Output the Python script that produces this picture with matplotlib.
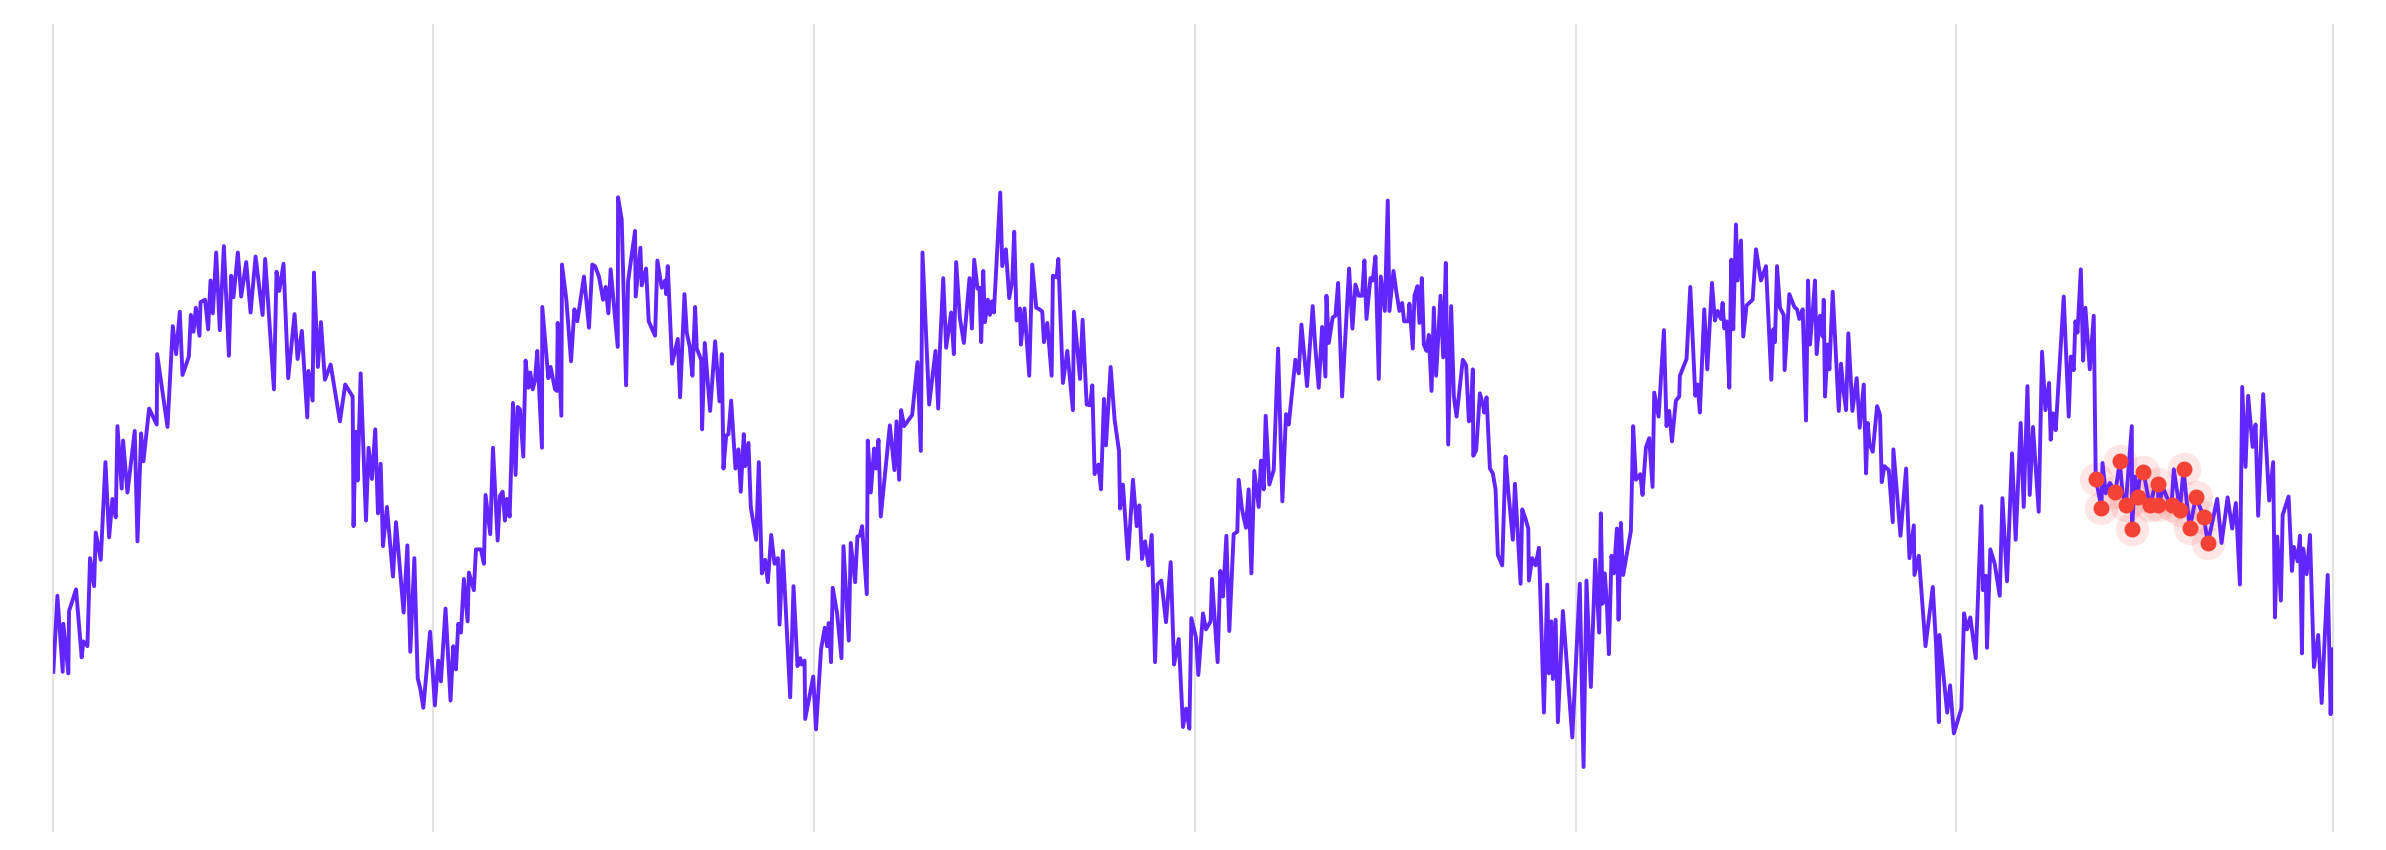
import matplotlib
matplotlib.use("Agg")
import matplotlib.pyplot as plt
import numpy as np
import pandas as pd

OUTPUT_PATH = "out.png"

# (day of year, value) pairs, one list per year
y2018 = [(0.6, 19.9), (4.5, 29.4), (9.6, 19.9), (10.2, 25.9), (15.0, 19.7), (15.7, 27.5), (22.4, 30.2),
         (27.8, 21.7), (29.4, 23.7), (33.3, 23.1), (35.8, 34.1), (39.7, 30.6), (41.3, 37.3), (46.1, 33.9),
         (50.6, 46.1), (54.1, 36.7), (57.3, 41.5), (60.5, 39.2), (62.1, 50.6), (66.2, 42.8), (67.5, 48.8),
         (71.7, 42.3), (78.7, 50.0), (81.3, 36.2), (84.8, 49.7), (87.0, 46.2), (92.5, 52.8), (99.8, 50.8),
         (100.2, 59.6), (110.1, 50.5), (115.2, 63.1), (118.4, 59.6), (121.9, 64.9), (124.5, 57.0),
         (130.6, 59.3), (132.5, 64.5), (135.0, 62.4), (137.3, 65.4), (140.8, 61.9), (141.8, 66.1),
         (146.2, 66.4), (149.1, 62.7), (151.4, 68.8), (153.6, 64.7), (156.8, 72.3), (160.3, 62.6),
         (164.2, 73.1), (169.0, 59.4), (171.2, 69.4), (173.4, 66.7), (177.6, 72.3), (180.8, 66.8),
         (185.6, 71.1), (189.8, 64.8), (194.6, 71.8), (201.3, 64.5), (203.8, 71.5), (212.2, 55.2),
         (214.7, 69.9), (217.3, 67.5), (221.4, 70.9), (225.9, 56.6), (232.0, 64.6), (234.9, 59.0),
         (239.0, 62.5), (244.2, 51.7), (245.4, 57.5), (249.3, 53.8), (250.6, 69.8), (254.4, 58.0),
         (257.3, 63.6), (261.1, 56.4), (266.6, 58.3), (275.5, 51.2), (280.6, 55.8), (287.7, 54.3),
         (288.6, 38.1), (290.6, 49.9), (292.5, 43.8), (295.4, 57.2), (300.5, 38.8), (303.0, 47.9),
         (306.2, 44.0), (309.4, 50.2), (312.0, 39.7), (314.6, 45.9), (316.8, 35.6), (320.6, 40.5),
         (326.4, 31.8), (329.3, 38.6), (336.6, 27.3), (340.2, 35.7), (343.0, 22.4), (346.9, 34.1),
         (350.1, 19.1), (352.6, 17.8), (355.5, 15.4), (362.0, 24.9)]

y2019 = [(1.6, 15.7), (4.8, 21.3), (7.4, 18.7), (11.8, 27.8), (16.6, 16.3), (19.2, 23.1), (21.8, 20.2),
         (24.0, 25.9), (26.6, 24.8), (29.4, 31.5), (33.0, 26.2), (34.2, 32.3), (39.0, 30.1), (41.0, 35.2),
         (45.8, 35.2), (48.6, 33.4), (50.2, 42.0), (54.7, 37.1), (57.3, 47.9), (61.8, 36.3), (64.0, 41.9),
         (66.6, 42.4), (68.8, 38.8), (70.7, 41.5), (73.3, 39.3), (76.5, 53.5), (79.0, 44.5), (81.0, 53.0),
         (83.2, 52.7), (86.4, 46.8), (88.6, 58.8), (91.2, 55.4), (93.1, 57.3), (95.4, 55.2), (97.6, 56.3),
         (99.8, 60.0), (104.3, 47.9), (104.6, 65.5), (110.4, 56.6), (112.6, 58.0), (116.8, 55.2),
         (118.7, 55.0), (119.4, 63.5), (122.9, 51.9), (123.5, 70.8), (127.7, 66.4), (132.2, 58.7),
         (135.4, 65.2), (138.2, 63.7), (144.6, 69.3), (149.4, 62.9), (152.6, 70.8), (155.2, 70.6),
         (159.0, 69.3), (162.9, 66.4), (165.4, 68.0), (168.0, 64.7), (170.2, 70.2), (177.0, 60.5),
         (177.3, 79.2), (180.8, 76.4), (185.0, 55.7), (186.9, 68.7), (193.6, 75.0), (194.2, 66.8),
         (198.7, 72.9), (200.0, 68.2), (204.2, 70.3), (206.7, 63.7), (212.8, 61.9), (215.0, 71.3),
         (219.2, 67.9), (222.4, 68.8), (223.4, 67.1), (225.0, 70.6), (229.1, 58.4), (234.6, 61.5),
         (236.8, 54.2), (241.0, 67.1), (243.2, 62.3), (246.1, 60.5), (248.6, 56.9), (251.2, 65.5),
         (252.8, 60.3), (257.0, 58.9), (257.9, 50.2), (260.5, 61.0), (263.4, 56.0), (265.6, 52.5),
         (270.4, 61.2), (274.6, 53.7), (276.8, 59.6), (278.4, 45.3), (281.0, 49.4), (283.2, 49.6),
         (285.8, 53.8), (289.9, 45.3), (292.8, 47.7), (295.0, 42.4), (297.9, 49.6), (299.2, 45.6),
         (302.4, 48.5), (304.6, 40.5), (309.8, 36.4), (312.3, 46.1), (315.2, 32.2), (318.4, 33.9),
         (321.0, 31.1), (324.2, 37.0), (327.4, 33.4), (330.6, 34.1), (332.2, 25.8), (335.4, 35.0),
         (342.4, 16.7), (345.6, 30.6), (349.4, 20.6), (352.0, 21.6), (353.6, 20.8), (356.2, 21.3),
         (356.8, 14.0), (364.5, 19.3)]

y2020 = [(2.2, 12.7), (7.0, 22.7), (10.6, 25.4), (12.8, 23.1), (14.4, 26.0), (16.6, 21.1), (18.2, 30.4),
         (22.4, 27.2), (26.6, 21.6), (28.5, 35.6), (33.6, 23.8), (35.5, 36.0), (39.7, 31.1), (41.9, 36.8),
         (44.2, 36.9), (46.4, 38.1), (50.9, 29.6), (51.8, 48.8), (54.7, 42.3), (57.9, 47.8), (59.8, 45.3),
         (62.1, 48.9), (64.3, 39.3), (73.0, 50.7), (77.4, 45.1), (79.4, 51.2), (81.9, 43.9), (83.8, 52.6),
         (86.7, 50.6), (94.4, 52.0), (99.5, 58.6), (102.7, 47.5), (104.3, 72.3), (110.7, 53.3),
         (116.8, 60.0), (119.4, 52.8), (121.0, 60.1), (124.2, 69.1), (127.0, 60.4), (131.8, 64.8),
         (134.4, 59.6), (136.6, 71.1), (140.2, 64.1), (144.0, 61.0), (149.4, 69.1), (151.7, 62.8),
         (153.9, 71.4), (157.1, 67.8), (159.0, 67.9), (160.6, 61.1), (162.6, 70.0), (164.2, 63.6),
         (167.0, 66.4), (169.0, 64.5), (170.9, 66.2), (172.8, 64.8), (178.9, 79.8), (180.8, 70.6),
         (184.3, 72.7), (187.5, 66.6), (190.4, 68.7), (192.3, 74.9), (194.6, 63.8), (197.8, 65.3),
         (198.7, 60.8), (202.2, 65.3), (206.7, 56.9), (209.6, 70.8), (213.4, 65.4), (216.6, 65.2),
         (219.2, 64.9), (220.8, 61.1), (224.0, 63.5), (228.2, 56.9), (229.4, 69.4), (233.0, 69.2),
         (234.6, 71.5), (239.0, 56.0), (243.2, 60.0), (248.6, 52.6), (249.6, 64.9), (255.4, 56.5),
         (257.9, 63.9), (261.8, 53.3), (265.0, 53.2), (267.2, 55.7), (269.4, 44.6), (273.0, 45.8),
         (275.5, 42.7), (278.4, 54.0), (280.3, 48.2), (284.8, 58.0), (288.6, 51.4), (292.8, 47.5),
         (293.8, 40.3), (296.6, 43.3), (301.4, 34.0), (306.2, 43.9), (309.8, 38.1), (312.3, 40.7),
         (314.9, 34.0), (317.8, 36.2), (321.0, 33.2), (324.2, 37.0), (327.4, 21.1), (329.6, 30.8),
         (333.4, 31.3), (337.9, 26.1), (342.4, 33.6), (345.6, 20.8), (350.1, 24.0), (354.2, 13.0),
         (357.1, 15.3), (360.3, 12.8), (362.2, 26.6)]

y2021 = [(0.6, 24.2), (2.9, 19.5), (7.4, 27.2), (10.2, 25.2), (14.7, 26.2), (16.0, 31.5), (21.4, 21.1),
         (24.0, 32.5), (26.6, 29.3), (29.8, 36.9), (32.6, 25.0), (36.8, 37.1), (40.3, 37.4), (41.6, 43.9),
         (44.8, 40.2), (48.6, 37.9), (51.2, 42.7), (53.8, 32.2), (56.6, 45.0), (60.8, 40.5), (63.0, 46.3),
         (65.6, 42.7), (67.5, 51.9), (71.0, 43.3), (75.2, 45.1), (79.4, 60.3), (83.5, 41.2), (87.0, 52.1),
         (89.6, 50.8), (96.0, 58.9), (99.2, 57.2), (101.8, 63.3), (107.2, 55.6), (112.6, 65.6),
         (115.2, 60.3), (118.4, 55.4), (121.6, 63.0), (124.8, 56.8), (125.8, 66.9), (128.0, 61.0),
         (131.8, 64.2), (134.4, 64.4), (137.0, 68.5), (140.8, 54.3), (147.5, 70.3), (150.7, 62.8),
         (153.6, 68.3), (156.8, 66.9), (160.0, 66.9), (162.2, 71.3), (164.2, 64.0), (168.0, 69.1),
         (170.2, 68.8), (172.8, 71.8), (176.0, 56.5), (177.9, 69.3), (181.8, 65.0), (184.6, 78.8),
         (186.2, 65.0), (190.1, 70.0), (192.6, 67.6), (195.8, 65.0), (198.4, 66.0), (200.3, 63.7),
         (204.2, 63.7), (205.4, 65.9), (208.6, 60.3), (210.2, 66.9), (213.1, 68.1), (215.0, 63.5),
         (217.3, 69.1), (219.2, 60.8), (221.8, 60.0), (224.0, 62.0), (226.6, 55.0), (228.8, 65.4),
         (231.0, 56.9), (235.2, 66.9), (237.8, 59.2), (240.3, 71.0), (242.6, 48.3), (245.4, 65.6),
         (248.0, 54.3), (250.6, 51.8), (256.6, 58.9), (259.8, 58.2), (262.4, 51.2), (264.0, 51.4),
         (266.2, 57.7), (266.6, 46.9), (269.4, 47.6), (273.0, 54.7), (276.2, 53.1), (277.1, 52.3),
         (279.4, 54.2), (282.6, 45.3), (285.4, 44.7), (288.0, 42.7), (290.2, 34.5), (294.4, 33.2),
         (297.6, 46.8), (300.2, 42.5), (304.6, 36.4), (306.6, 43.4), (312.0, 30.9), (313.6, 40.2),
         (316.8, 39.0), (319.4, 37.8), (320.0, 31.3), (323.2, 34.1), (326.4, 33.2), (329.6, 35.4),
         (334.4, 14.8), (337.6, 30.8), (339.2, 19.7), (341.4, 26.2), (343.0, 19.0), (345.6, 26.4),
         (347.8, 13.6), (352.6, 27.5), (361.6, 11.7)]

y2022 = [(3.8, 30.9), (7.4, 8.0), (10.2, 31.3), (14.4, 18.0), (18.6, 33.9), (22.4, 24.8), (24.0, 39.7),
         (25.6, 28.4), (27.8, 32.2), (29.8, 28.4), (31.7, 22.1), (34.2, 34.4), (36.5, 32.2), (39.4, 37.8),
         (41.0, 26.4), (43.2, 38.5), (45.4, 32.0), (52.8, 37.5), (55.0, 50.6), (57.6, 43.9), (61.8, 44.6),
         (64.0, 42.0), (67.2, 47.9), (70.4, 49.1), (73.6, 43.0), (75.2, 54.8), (79.4, 51.8), (84.5, 62.6),
         (87.0, 50.6), (89.6, 52.5), (92.2, 48.7), (96.0, 53.8), (99.2, 54.3), (99.8, 56.9), (106.2, 59.0),
         (109.8, 68.0), (114.6, 54.4), (116.8, 55.8), (119.0, 52.3), (123.2, 65.2), (126.1, 57.7),
         (130.6, 68.5), (133.4, 63.8), (136.0, 65.0), (139.2, 64.0), (140.8, 66.0), (142.4, 62.8),
         (144.6, 63.7), (147.2, 55.4), (149.1, 71.4), (151.0, 62.7), (153.6, 75.8), (155.2, 68.8),
         (158.4, 73.8), (160.6, 61.8), (163.8, 65.7), (169.6, 66.4), (172.8, 72.7), (177.6, 68.8),
         (182.4, 70.6), (187.5, 56.4), (189.4, 62.7), (191.0, 61.1), (193.0, 70.6), (195.8, 65.4),
         (199.4, 64.5), (200.3, 57.6), (204.8, 67.1), (209.6, 65.5), (212.2, 65.2), (214.4, 64.0),
         (217.6, 65.2), (220.8, 51.3), (222.7, 68.8), (224.6, 60.8), (227.2, 64.9), (229.4, 68.8),
         (231.0, 59.6), (234.2, 64.4), (236.8, 61.8), (237.8, 66.4), (239.0, 54.3), (241.6, 60.8),
         (243.2, 57.7), (246.4, 67.4), (252.2, 52.5), (254.4, 58.4), (256.6, 55.2), (259.2, 52.6),
         (261.4, 62.2), (265.3, 52.5), (269.4, 56.6), (272.3, 50.4), (276.2, 55.8), (278.4, 44.7),
         (280.0, 51.0), (281.6, 48.4), (284.8, 47.4), (289.0, 53.1), (291.8, 52.0), (293.4, 43.6),
         (296.0, 45.6), (300.2, 45.1), (304.0, 38.6), (304.6, 47.7), (311.4, 36.9), (316.8, 45.3),
         (320.0, 34.1), (324.2, 38.2), (324.8, 32.0), (329.0, 34.4), (335.4, 23.1), (342.4, 30.5),
         (345.6, 23.1), (348.2, 13.6), (348.8, 24.5), (356.2, 14.8), (359.0, 18.2), (362.6, 12.2)]

y2023 = [(4.8, 15.3), (7.4, 27.2), (10.2, 25.2), (13.4, 26.7), (18.6, 21.6), (24.0, 40.6), (25.6, 30.1),
         (28.2, 31.9), (29.4, 22.9), (32.6, 35.2), (36.8, 33.4), (41.6, 29.4), (44.2, 41.6), (48.6, 31.2),
         (53.4, 47.2), (56.9, 36.4), (61.7, 51.0), (64.6, 40.5), (68.2, 55.6), (70.4, 42.0), (73.5, 50.5),
         (79.0, 39.9), (82.2, 59.9), (85.4, 52.6), (88.9, 56.0), (90.5, 48.9), (92.7, 52.2), (95.3, 50.1),
         (103.0, 66.8), (107.8, 51.8), (109.8, 59.3), (112.6, 57.6), (114.2, 63.7), (116.2, 62.3),
         (119.4, 70.2), (121.6, 58.8), (123.8, 65.4), (128.0, 57.7), (131.8, 64.4), (133.7, 44.0),
         (135.9, 42.6), (139.2, 40.4), (140.2, 46.0), (143.3, 42.2), (147.2, 43.5), (152.6, 42.4),
         (156.8, 46.2), (159.4, 42.2), (162.5, 40.7), (168.3, 50.6), (168.6, 37.7), (171.2, 44.3),
         (173.8, 41.7), (176.0, 44.3), (179.5, 44.9), (183.9, 41.8), (186.2, 40.7), (189.4, 42.6),
         (193.2, 43.4), (193.9, 40.7), (198.3, 42.9), (201.6, 41.8), (206.4, 40.8), (208.6, 45.2),
         (214.4, 40.1), (217.9, 45.2), (220.8, 41.4), (224.0, 37.9), (229.7, 41.7), (233.6, 40.5),
         (237.4, 39.2), (241.3, 36.0), (250.2, 41.5), (254.4, 36.0), (260.2, 41.7), (264.6, 37.8),
         (268.1, 41.0), (272.0, 30.8), (274.2, 55.5), (277.4, 45.5), (279.9, 54.4), (284.2, 48.0),
         (287.0, 50.8), (289.5, 39.4), (294.3, 54.6), (300.1, 41.3), (303.9, 46.1), (305.6, 26.7),
         (307.8, 36.8), (311.3, 28.8), (313.0, 39.5), (318.7, 41.8), (321.9, 32.5), (323.8, 35.5),
         (327.4, 33.7), (329.6, 36.9), (331.5, 22.2), (332.7, 35.3), (336.0, 32.1), (339.2, 37.0),
         (343.0, 20.5), (347.1, 24.5), (350.4, 16.0), (356.2, 32.0), (359.0, 14.6), (361.0, 22.7)]

# samples flagged as anomalies (summer 2023 dip)
anomaly_days_2023 = [133.7, 139.2, 152.6, 156.8, 162.5, 168.6, 173.8, 179.5, 186.2,
                     193.2, 193.9, 206.4, 214.4, 217.9, 224.0, 229.7, 237.4, 241.3]

years = [2018, 2019, 2020, 2021, 2022, 2023]
series = [y2018, y2019, y2020, y2021, y2022, y2023]

rows = []
for year, pts in zip(years, series):
    start = pd.Timestamp(f"{year}-01-01")
    for day, val in pts:
        rows.append({
            "date": start + pd.Timedelta(days=day),
            "value": val,
            "anomaly": year == 2023 and day in anomaly_days_2023,
        })
df = pd.DataFrame(rows)
anom = df[df["anomaly"]]

fig = plt.figure(figsize=(23.86, 8.5), dpi=100)
ax = fig.add_axes([52.7 / 2386, 19 / 850, 2280 / 2386, 806.5 / 850])

x_start = pd.Timestamp("2018-01-01")
x_end = pd.Timestamp("2023-12-28")

# year boundaries as light vertical rules
for year in years:
    ax.axvline(pd.Timestamp(f"{year}-01-01"), color="#e2e2e2", lw=1.5, zorder=0, clip_on=False)
ax.axvline(x_end, color="#e2e2e2", lw=1.5, zorder=0, clip_on=False)

ax.plot(df["date"], df["value"], color="#6325fe", lw=2.8, zorder=2)

# anomaly halos + dots
ax.scatter(anom["date"], anom["value"], s=24 ** 2, color="#f44336", alpha=0.13,
           linewidths=0, zorder=1.5)
ax.scatter(anom["date"], anom["value"], s=11.5 ** 2, color="#f44336",
           linewidths=0, zorder=3)

ax.set_xlim(x_start, x_end)
ax.set_ylim(0, 100.8)
ax.set_xticks([])
ax.set_yticks([])
for spine in ax.spines.values():
    spine.set_visible(False)

fig.savefig(OUTPUT_PATH, dpi=100)
print(f"Saved graph to {OUTPUT_PATH}")
